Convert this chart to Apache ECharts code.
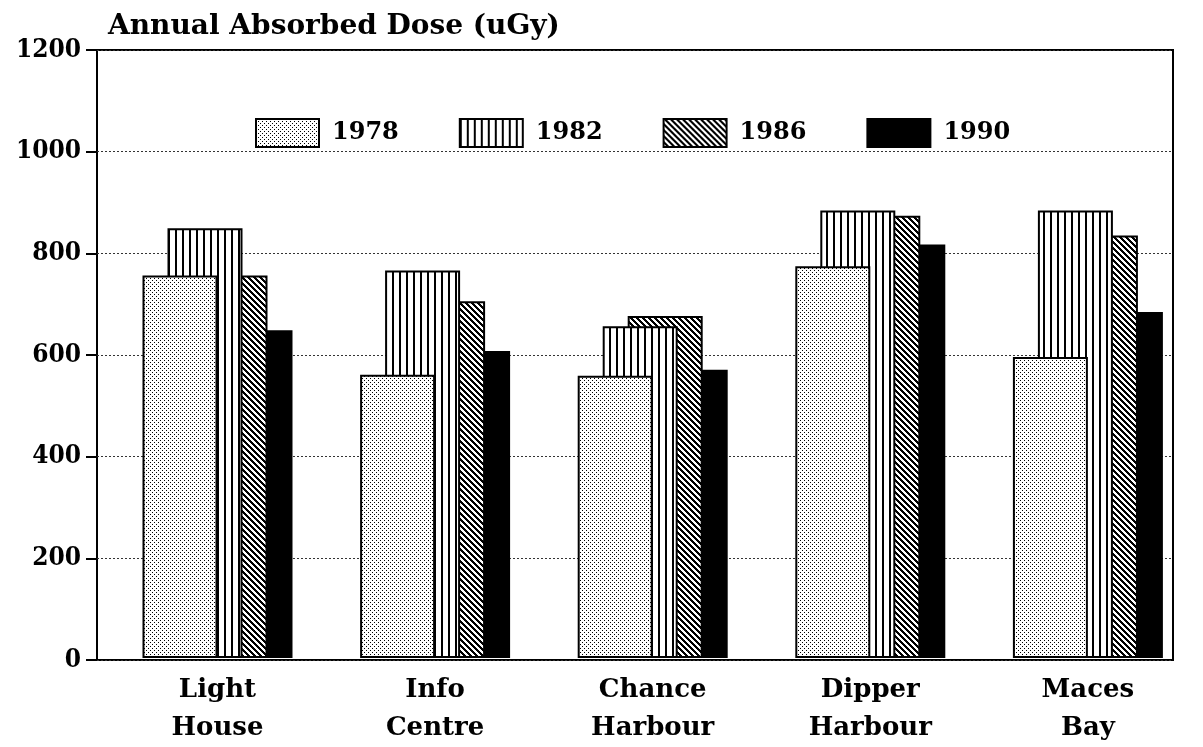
<!DOCTYPE html>
<html><head><meta charset="utf-8">
<script src="https://cdn.jsdelivr.net/npm/echarts@6/dist/echarts.min.js"></script>
<style>html,body{margin:0;padding:0;background:#fff}#c{width:1203px;height:747px}</style>
</head><body><div id="c"></div>
<script>
const categories = ['Light\nHouse', 'Info\nCentre', 'Chance\nHarbour', 'Dipper\nHarbour', 'Maces\nBay'];
const years = ['1978', '1982', '1986', '1990'];
const v1978 = [755, 559, 557, 773, 594];
const v1982 = [848, 765, 655, 883, 883];
const v1986 = [755, 704, 675, 873, 834];
const v1990 = [647, 606, 569, 816, 683];
const yTicks = [0, 200, 400, 600, 800, 1000, 1200];

function makePattern(w, h, fn) {
  const c = document.createElement('canvas');
  c.width = w; c.height = h;
  const ctx = c.getContext('2d');
  const img = ctx.createImageData(w, h);
  for (let y = 0; y < h; y++) for (let x = 0; x < w; x++) {
    const k = (y * w + x) * 4;
    const v = fn(x, y) ? 0 : 255;
    img.data[k] = v; img.data[k+1] = v; img.data[k+2] = v; img.data[k+3] = 255;
  }
  ctx.putImageData(img, 0, 0);
  return c;
}
const dotted = makePattern(4, 4, (x, y) => (x === 0 && y === 0) || (x === 2 && y === 2));
const vstripe = makePattern(7, 1, (x, y) => x < 2);
const diag = makePattern(6, 6, (x, y) => ((x - y + 60) % 6) < 3);
const fills = [
  {image: dotted, repeat: 'repeat'},
  {image: vstripe, repeat: 'repeat'},
  {image: diag, repeat: 'repeat'},
  '#000'
];
const values = [v1978, v1982, v1986, v1990];
const FONT = 'DejaVu Serif';

const chart = echarts.init(document.getElementById('c'), null, {renderer: 'canvas'});
chart.setOption({
  animation: false,
  backgroundColor: '#fff',
  title: {
    text: 'Annual Absorbed Dose (uGy)', left: 103, top: 8,
    textStyle: {fontFamily: FONT, fontSize: 28, fontWeight: 'bold', color: '#000'}
  },
  legend: {
    data: years, top: 113, left: 250, itemWidth: 63, itemHeight: 28, itemGap: 60, icon: 'rect',
    textStyle: {fontFamily: FONT, fontSize: 24, fontWeight: 'bold', color: '#000', padding: [0, 0, 0, 8]},
    itemStyle: {borderColor: '#000', borderWidth: 2}
  },
  grid: [
    {left: 97, right: 30, top: 50, bottom: 87, show: true, borderColor: '#000', borderWidth: 2, backgroundColor: 'transparent'},
    {left: 108.7, width: 1088, top: 50, bottom: 87}
  ],
  xAxis: [
    {gridIndex: 0, type: 'category', data: categories, show: false},
    {gridIndex: 1, type: 'category', data: categories,
     axisLine: {show: false}, axisTick: {show: false},
     axisLabel: {fontFamily: FONT, fontSize: 26, fontWeight: 'bold', color: '#000', lineHeight: 38, margin: 13}}
  ],
  yAxis: [
    {gridIndex: 0, type: 'value', min: 0, max: 1200, interval: 200,
     axisLine: {show: false},
     axisTick: {show: true, length: 11, lineStyle: {color: '#000', width: 2}},
     axisLabel: {fontFamily: 'DejaVu Serif Condensed', fontSize: 26, fontWeight: 'bold', color: '#000', margin: 16,
       formatter: v => yTicks.includes(v) ? String(v) : ''},
     splitLine: {show: true, lineStyle: {color: '#333', type: [2, 2], width: 1}}},
    {gridIndex: 1, type: 'value', min: 0, max: 1200, interval: 200, show: false, splitLine: {show: false}}
  ],
  series: years.map((y, i) => ({
    name: y, type: 'bar', xAxisIndex: 1, yAxisIndex: 1,
    data: values[i], barWidth: 75, barGap: '-66.67%', z: 10 - i,
    itemStyle: {color: fills[i], borderColor: '#000', borderWidth: 2}
  }))
});
</script></body></html>
